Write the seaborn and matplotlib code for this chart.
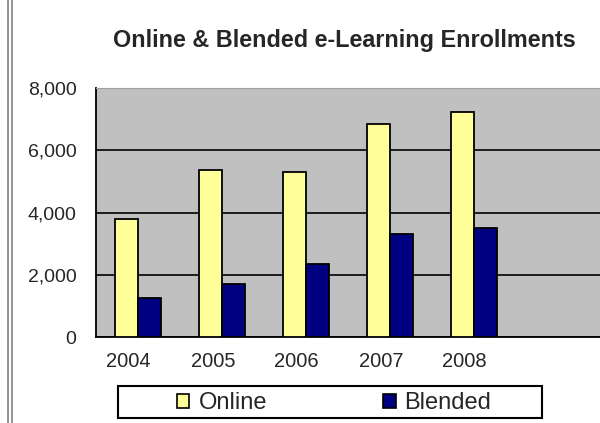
import matplotlib
matplotlib.use("Agg")
import matplotlib.pyplot as plt
from matplotlib.lines import Line2D
from matplotlib.patches import Rectangle
import numpy as np
import pandas as pd
import seaborn as sns

years = ["2004", "2005", "2006", "2007", "2008"]
online = [3800, 5370, 5300, 6850, 7220]
blended = [1250, 1700, 2350, 3300, 3500]
series = ["Online", "Blended"]
colors = ["#FFFF99", "#000080"]

df = pd.DataFrame({
    "year": years * 2,
    "value": online + blended,
    "series": ["Online"] * len(years) + ["Blended"] * len(years),
})

sns.set_style("white")
plt.rcParams["font.family"] = ["Liberation Sans", "DejaVu Sans"]

fig = plt.figure(figsize=(6, 4.23), dpi=100)
ax = fig.add_axes([96 / 600, 1 - 337 / 423, 504 / 600, 249 / 423])
ax.set_facecolor("#C0C0C0")

sns.barplot(data=df, x="year", y="value", hue="series", order=years,
            hue_order=series, palette=colors, width=0.55, saturation=1,
            edgecolor="black", linewidth=1.3, ax=ax, legend=False, zorder=3)

ax.set_xlim(-0.5, 5.5)
ax.set_ylim(0, 8000)
ax.set_yticks([0, 2000, 4000, 6000, 8000])
ax.set_yticklabels([f"{v:,}" for v in [0, 2000, 4000, 6000, 8000]])
ax.yaxis.grid(True, color="black", linewidth=1.2, zorder=1)
ax.set_axisbelow(True)

# tick marks at category boundaries, labels a little left of the centres
ax.set_xticks(np.arange(-0.5, 6, 1))
ax.set_xticklabels([""] * 7)
ax.set_xticks(np.arange(len(years)) - 0.11, minor=True)
ax.set_xticklabels(years, minor=True)
ax.tick_params(axis="x", which="major", direction="out", length=6, width=1.3, color="black")
ax.tick_params(axis="x", which="minor", length=0, pad=11, labelsize=14.5)
ax.tick_params(axis="y", direction="out", length=6, width=1.3, color="black", labelsize=14, pad=8)
ax.set_xlabel("")
ax.set_ylabel("")

for side in ["left", "bottom"]:
    ax.spines[side].set_color("black")
    ax.spines[side].set_linewidth(1.3)
ax.spines["top"].set_color("#A0A0A0")
ax.spines["right"].set_visible(False)

fig.text(344 / 600, 1 - 41 / 423, "Online & Blended e-Learning Enrollments",
         ha="center", va="center", fontsize=16.8, fontweight="bold")

handles = [Rectangle((0, 0), 1, 1, facecolor=c, edgecolor="black", linewidth=1.2)
           for c in colors]
leg = fig.legend(handles, series, loc="center", ncol=2, frameon=False,
                 bbox_to_anchor=(334 / 600, 1 - 403 / 423), fontsize=17,
                 handlelength=0.55, handleheight=0.55, handletextpad=0.38,
                 columnspacing=4.9, borderaxespad=0)
fig.add_artist(Rectangle((118 / 600, 1 - 418 / 423), 424 / 600, 32 / 423,
                         transform=fig.transFigure, fill=False,
                         edgecolor="black", linewidth=1.5))

# page border lines at the left
for x in (8, 12):
    fig.add_artist(Line2D([x / 600, x / 600], [0, 1], color="#808080", linewidth=1.2))

fig.savefig("out.png", dpi=100)
